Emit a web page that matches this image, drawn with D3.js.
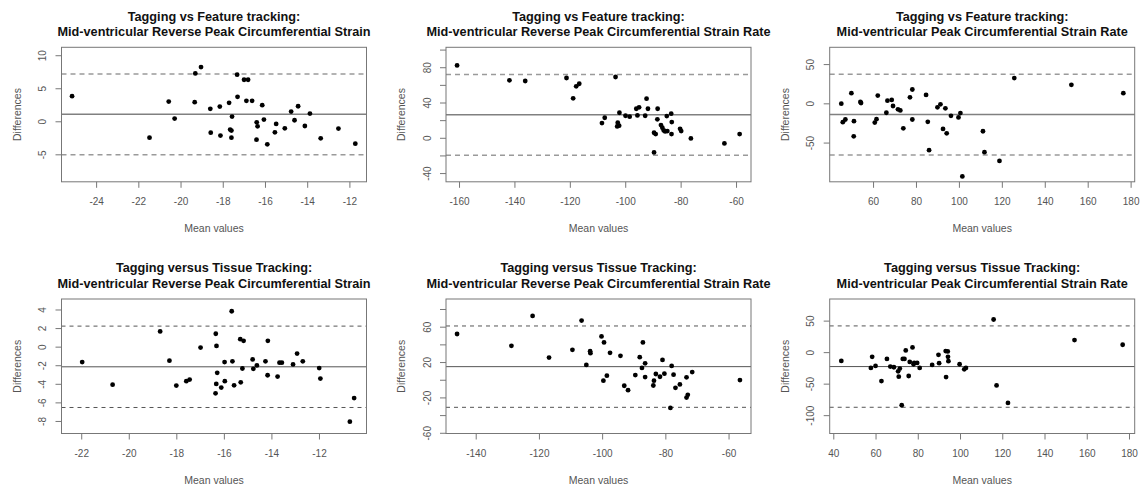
<!DOCTYPE html>
<html>
<head>
<meta charset="utf-8">
<script src="https://cdn.jsdelivr.net/npm/d3@7"></script>
<style>
  body { margin: 0; background: #fff; }
  text { font-family: "Liberation Sans", Arial, Helvetica, sans-serif; }
</style>
</head>
<body>
<div id="wrapper"></div>
<script>
// Tagging vs Feature tracking: reverse peak circumferential strain
const p1Means = [-25.14, -21.47, -20.56, -20.28, -19.33, -19.30, -19.03, -18.59, -18.57, -18.14, -18.11, -17.70, -17.65, -17.59, -17.56, -17.59, -17.32, -17.30, -16.99, -16.80, -16.88, -16.61, -16.39, -16.35, -16.40, -16.13, -16.05, -15.89, -15.53, -15.47, -15.06, -14.76, -14.60, -14.43, -14.11, -13.87, -13.36, -12.52, -11.72]
const p1Diffs = [3.80, -2.48, 2.99, 0.41, 2.89, 7.25, 8.21, 1.88, -1.72, 2.23, -2.17, 2.79, -1.26, -1.41, 0.71, -2.48, 7.05, 3.70, 6.29, 6.29, 3.10, 3.10, -0.15, -0.76, -2.78, 2.44, 0.26, -3.49, -1.67, -0.40, -1.06, 1.47, 0.16, 2.28, -0.71, 1.17, -2.58, -1.11, -3.39]

// Tagging vs Feature tracking: reverse peak strain rate
const p2Means = [-160.7, -141.8, -136.1, -121.2, -118.8, -117.7, -116.6, -103.5, -108.4, -107.4, -102.7, -102.9, -102.2, -102.1, -99.9, -98.4, -96.0, -95.0, -95.6, -92.8, -92.3, -91.8, -88.3, -88.4, -87.1, -86.6, -86.1, -85.6, -85.0, -84.8, -83.4, -83.2, -83.3, -89.6, -89.0, -89.6, -80.2, -79.8, -76.3, -64.2, -58.7]
const p2Diffs = [82.1, 65.1, 64.4, 67.8, 44.7, 58.3, 61.3, 68.9, 16.7, 22.7, 17.1, 12.9, 13.7, 28.4, 25.0, 23.9, 32.9, 34.5, 25.4, 25.0, 44.3, 32.9, 32.9, 20.9, 14.4, 11.4, 8.4, 7.2, 24.6, 7.6, 27.3, 17.8, 4.2, 5.7, 4.2, -16.6, 10.2, 7.6, -0.7, -6.4, 4.2]

// Tagging vs Feature tracking: peak strain rate
const p3Means = [45.2, 45.9, 47.1, 49.9, 51.1, 51.0, 54.1, 54.4, 60.8, 61.6, 62.2, 66.2, 66.7, 68.7, 69.3, 71.6, 72.7, 74.1, 77.2, 78.3, 78.3, 84.7, 85.5, 86.1, 90.0, 91.4, 93.7, 92.6, 94.3, 96.3, 99.8, 100.7, 101.6, 111.2, 111.9, 118.9, 125.8, 152.4, 176.6]
const p3Diffs = [-0.4, -24.0, -20.6, 12.9, -22.7, -42.1, 1.7, 0.4, -24.5, -20.2, 9.9, -12.0, 3.4, 4.3, -3.4, -7.7, -9.0, -31.8, 7.7, 17.6, -20.6, 10.7, -23.6, -59.7, -5.1, -1.3, -6.4, -32.6, -38.2, -15.9, -18.0, -12.4, -93.1, -35.6, -62.2, -73.4, 32.2, 23.6, 12.9]

// Tagging versus Tissue Tracking: reverse peak strain
const p4Means = [-21.96, -20.68, -18.68, -18.29, -18.00, -17.58, -17.44, -16.98, -16.34, -16.31, -16.28, -16.32, -16.35, -16.11, -15.97, -15.96, -15.67, -15.64, -15.57, -15.31, -15.29, -15.22, -15.17, -14.79, -14.76, -14.61, -14.25, -14.15, -14.16, -13.74, -13.66, -13.56, -13.09, -12.92, -12.68, -11.99, -11.94, -10.70, -10.52]
const p4Diffs = [-1.66, -4.09, 1.64, -1.51, -4.19, -3.72, -3.54, -0.10, 1.39, 0.08, -2.82, -4.01, -5.03, -4.41, -1.66, -3.72, 3.81, -1.58, -4.16, 0.81, -3.84, -2.35, 0.63, -1.37, -2.39, -2.02, -1.58, 0.63, -3.08, -3.22, -1.73, -1.73, -1.91, -0.75, -1.58, -2.31, -3.44, -8.08, -5.54]

// Tagging versus Tissue Tracking: reverse peak strain rate
const p5Means = [-145.9, -128.7, -122.0, -116.8, -109.4, -106.5, -105.0, -103.8, -103.7, -100.2, -99.4, -99.6, -97.5, -98.5, -94.2, -93.0, -91.8, -89.5, -88.1, -87.4, -87.1, -86.4, -86.4, -83.8, -83.6, -83.0, -81.7, -80.9, -80.3, -78.0, -77.4, -78.4, -76.8, -75.4, -73.3, -73.3, -72.9, -71.5, -56.4]
const p5Diffs = [51.7, 38.4, 72.2, 25.1, 33.8, 66.9, 16.7, 32.3, 30.0, 49.0, 42.2, -1.1, 30.4, 4.6, 27.0, -6.8, -11.8, 5.3, 25.5, 13.3, 42.2, 18.6, 3.0, -6.5, -1.1, 6.5, 3.4, 22.4, 6.8, 15.6, 5.7, -31.9, -9.1, -5.3, 2.7, -20.2, -17.1, 8.7, -0.4]

// Tagging versus Tissue Tracking: peak strain rate
const p6Means = [43.8, 57.8, 58.4, 60.0, 62.8, 65.4, 67.0, 68.7, 70.7, 71.0, 71.5, 72.4, 72.9, 73.7, 74.3, 75.7, 76.2, 77.5, 78.0, 78.3, 79.7, 80.9, 86.8, 89.8, 90.1, 93.2, 94.2, 93.4, 94.3, 94.5, 99.8, 102.0, 102.8, 115.9, 117.3, 122.7, 154.2, 177.0]
const p6Diffs = [-13.9, -25.1, -7.5, -21.9, -45.9, -10.7, -22.9, -24.0, -30.4, -39.0, -26.1, -84.3, -10.7, -10.7, 2.7, -37.9, -15.5, 7.5, -19.2, -17.1, -17.1, -25.1, -20.3, -4.3, -17.6, 1.6, 1.1, -39.5, -7.5, -14.4, -19.2, -27.2, -25.1, 51.8, -52.8, -80.6, 19.2, 11.7]

// mean difference and limits of agreement [lower, mean, upper]
const agreementLines = [
    [-5.06, 1.06, 7.17],
    [-19.8, 26.0, 71.8],
    [-65.8, -14.3, 37.2],
    [-6.55, -2.17, 2.21],
    [-31.2, 14.8, 60.8],
    [-87.5, -22.9, 41.6],
]

const titleTop = ["Tagging vs Feature tracking:", "Tagging vs Feature tracking:", "Tagging vs Feature tracking:",
    "Tagging versus Tissue Tracking:", "Tagging versus Tissue Tracking:", "Tagging versus Tissue Tracking:"]
const titleBottom = [
    "Mid-ventricular Reverse Peak Circumferential Strain",
    "Mid-ventricular Reverse Peak Circumferential Strain Rate",
    "Mid-ventricular Peak Circumferential Strain Rate",
    "Mid-ventricular Reverse Peak Circumferential Strain",
    "Mid-ventricular Reverse Peak Circumferential Strain Rate",
    "Mid-ventricular Peak Circumferential Strain Rate",
]

// axis limits as drawn
const xLimits = [[-25.64, -11.19], [-164.7, -54.6], [39.8, 181.9], [-22.83, -10.0], [-149.4, -52.9], [38.3, 182.7]]
const yLimits = [[-9.16, 11.2], [-49.9, 102.6], [-100, 71.4], [-9.35, 5.13], [-60.8, 91.3], [-129.1, 84.3]]

// tick values, and which of them carry a label
const xTicks = [
    [-24, -22, -20, -18, -16, -14, -12],
    [-160, -140, -120, -100, -80, -60],
    [60, 80, 100, 120, 140, 160, 180],
    [-22, -20, -18, -16, -14, -12],
    [-140, -120, -100, -80, -60],
    [40, 60, 80, 100, 120, 140, 160, 180],
]
const yTicks = [
    [-5, 0, 5, 10],
    [-40, -20, 0, 20, 40, 60, 80, 100],
    [-50, 0, 50],
    [-8, -6, -4, -2, 0, 2, 4],
    [-60, -40, -20, 0, 20, 40, 60, 80],
    [-100, -50, 0, 50],
]
const yTickLabels = [
    [-5, 0, 5, 10],
    [-40, 0, 40, 80],
    [-50, 0, 50],
    [-8, -6, -4, -2, 0, 2, 4],
    [-60, -20, 20, 60],
    [-100, -50, 0, 50],
]

const means = [p1Means, p2Means, p3Means, p4Means, p5Means, p6Means]
const diffs = [p1Diffs, p2Diffs, p3Diffs, p4Diffs, p5Diffs, p6Diffs]

function drawCharts() {

    const dimensions = {
        width: 1145,
        height: 486,
        colLeft: [61.5, 446, 829.7],
        rowTop: [47.3, 299],
        boxWidth: 305,
        boxHeight: 134.5,
    }

    const svg = d3.select("#wrapper")
        .append("svg")
        .attr("width", dimensions.width)
        .attr("height", dimensions.height)
        .style("display", "block")

    svg.append("rect")
        .attr("width", dimensions.width)
        .attr("height", dimensions.height)
        .attr("fill", "#fff")

    means.forEach((meanValues, i) => {
        const row = Math.floor(i / 3)
        const col = i % 3
        const left = dimensions.colLeft[col]
        const top = dimensions.rowTop[row]
        const w = dimensions.boxWidth
        const h = dimensions.boxHeight

        const styleTop = row === 0
        const points = meanValues.map((m, j) => ({ mean: m, diff: diffs[i][j] }))

        const bounds = svg.append("g")
            .attr("transform", `translate(${left}, ${top})`)

        // scales
        const xScale = d3.scaleLinear()
            .domain(xLimits[i])
            .range([0, w])
        const yScale = d3.scaleLinear()
            .domain(yLimits[i])
            .range([h, 0])

        // agreement lines
        const [lower, meanDiff, upper] = agreementLines[i]
        bounds.append("line")
            .attr("x1", 0).attr("x2", w)
            .attr("y1", yScale(meanDiff)).attr("y2", yScale(meanDiff))
            .attr("stroke", styleTop ? "#808080" : "#555")
            .attr("stroke-width", styleTop ? 1.5 : 1)
        bounds.selectAll(".limit")
            .data([lower, upper])
            .join("line")
                .attr("class", "limit")
                .attr("x1", 0).attr("x2", w)
                .attr("y1", d => yScale(d)).attr("y2", d => yScale(d))
                .attr("stroke", styleTop ? "#9a9a9a" : "#555")
                .attr("stroke-width", styleTop ? 1.5 : 1)
                .attr("stroke-dasharray", styleTop ? "5,4" : "4,4")

        // points
        bounds.append("g")
            .selectAll("circle")
            .data(points)
            .join("circle")
                .attr("cx", d => xScale(d.mean))
                .attr("cy", d => yScale(d.diff))
                .attr("r", 2.4)
                .attr("fill", "#000")

        // box
        bounds.append("rect")
            .attr("width", w)
            .attr("height", h)
            .attr("fill", "none")
            .attr("stroke", "#777")
            .attr("stroke-width", 1)

        // x axis
        const xAxisGenerator = d3.axisBottom(xScale)
            .tickValues(xTicks[i])
            .tickSize(6)
            .tickPadding(10)
            .tickFormat(d3.format("d"))
        const xAxis = bounds.append("g")
            .attr("transform", `translate(0, ${h})`)
            .call(xAxisGenerator)
        xAxis.select(".domain").remove()
        xAxis.selectAll("line").attr("stroke", "#777")
        xAxis.selectAll("text")
            .attr("fill", "#555")
            .style("font-size", "10px")
            .text(d => String(d))

        // y axis, labels turned like base R
        const labelled = yTickLabels[i]
        const yAxisGenerator = d3.axisLeft(yScale)
            .tickValues(yTicks[i])
            .tickSize(6)
            .tickFormat(d => labelled.includes(d) ? String(d) : "")
        const yAxis = bounds.append("g")
            .call(yAxisGenerator)
        yAxis.select(".domain").remove()
        yAxis.selectAll("line").attr("stroke", "#777")
        yAxis.selectAll("text")
            .attr("x", null)
            .attr("dy", "0.35em")
            .attr("transform", "translate(-19, 0) rotate(-90)")
            .attr("text-anchor", "middle")
            .attr("fill", "#555")
            .style("font-size", "10px")

        // axis titles
        bounds.append("text")
            .attr("x", w / 2)
            .attr("y", h + 46.6)
            .attr("dy", "0.35em")
            .attr("text-anchor", "middle")
            .attr("fill", "#555")
            .style("font-size", "10.5px")
            .text("Mean values")
        bounds.append("text")
            .attr("transform", `translate(${-44.2}, ${h / 2}) rotate(-90)`)
            .attr("dy", "0.35em")
            .attr("text-anchor", "middle")
            .attr("fill", "#555")
            .style("font-size", "10.5px")
            .text("Differences")

        // title
        bounds.append("text")
            .attr("x", w / 2)
            .attr("y", -31)
            .attr("dy", "0.35em")
            .attr("text-anchor", "middle")
            .attr("fill", "#111")
            .style("font-size", "12.7px")
            .style("font-weight", "bold")
            .text(titleTop[i])
        bounds.append("text")
            .attr("x", w / 2)
            .attr("y", -15.5)
            .attr("dy", "0.35em")
            .attr("text-anchor", "middle")
            .attr("fill", "#111")
            .style("font-size", "12.7px")
            .style("font-weight", "bold")
            .text(titleBottom[i])
    })
}
drawCharts()
</script>
</body>
</html>
